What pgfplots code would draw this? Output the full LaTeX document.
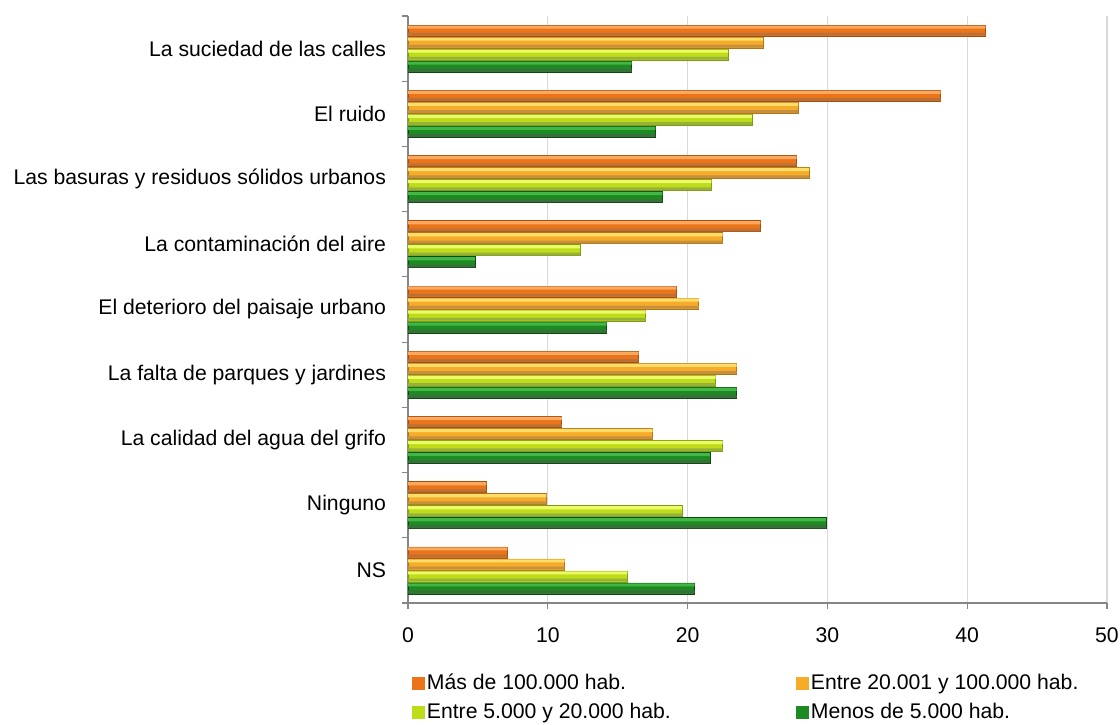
\documentclass[border=0pt]{standalone}
\usepackage{fontspec}
\setmainfont{Liberation Sans}
\usepackage{pgfplots}
\usepackage{pgfplotstable}
\pgfplotsset{compat=1.18}

\definecolor{oA}{HTML}{EC7418}
\definecolor{oAt}{HTML}{FBA860}
\definecolor{oAb}{HTML}{A94E08}
\definecolor{oB}{HTML}{F6AC28}
\definecolor{oBt}{HTML}{FFDD6A}
\definecolor{oBb}{HTML}{B67410}
\definecolor{gA}{HTML}{BEDC18}
\definecolor{gAt}{HTML}{ECFA6A}
\definecolor{gAb}{HTML}{7E9E0C}
\definecolor{gB}{HTML}{1E8A22}
\definecolor{gBt}{HTML}{42B646}
\definecolor{gBb}{HTML}{0A4A0C}
\definecolor{axgray}{HTML}{868686}
\definecolor{gridgray}{HTML}{D9D9D9}

\pgfplotstableread{
cat s1 s2 s3 s4
0 41.3 25.4 22.9 16.0
1 38.1 27.9 24.6 17.7
2 27.8 28.7 21.7 18.2
3 25.2 22.5 12.3 4.8
4 19.2 20.8 17.0 14.2
5 16.5 23.5 22.0 23.5
6 11.0 17.5 22.5 21.6
7 5.6 9.9 19.6 29.9
8 7.1 11.2 15.7 20.5
}\datatable

\pgfplotsset{
  basebar/.style n args={3}{xbar, bar width=5.5bp, bar shift=#1, fill=#2, draw=#3, line width=0.3bp},
  hibar/.style n args={3}{xbar, bar width=#2, bar shift=#1, fill=#3, draw=none, forget plot},
}

\begin{document}
\begin{tikzpicture}
\begin{axis}[
  name=ax,
  scale only axis,
  width=349.5bp, height=293.5bp,
  xmin=0, xmax=50, xtick={0,10,...,50},
  ymin=-0.5, ymax=8.5, y dir=reverse,
  ytick={-0.5,0.5,...,8.5},
  y tick label as interval,
  yticklabels={La suciedad de las calles, El ruido, Las basuras y residuos sólidos urbanos, La contaminación del aire, El deterioro del paisaje urbano, La falta de parques y jardines, La calidad del agua del grifo, Ninguno, NS},
  axis x line*=bottom, axis y line*=left,
  axis line style={draw=axgray, line width=0.6bp},
  tick align=outside, major tick length=3bp,
  tick style={draw=axgray, line width=0.6bp},
  xmajorgrids, grid style={draw=gridgray, line width=0.6bp},
  font=\fontsize{10.6bp}{12.7bp}\selectfont,
  /pgf/number format/assume math mode=true,
  xticklabel style={yshift=-6bp},
  yticklabel style={xshift=-4.5bp},
  legend columns=2,
  legend style={at={(0.005,-0.1175)}, anchor=north west, draw=none, fill=none,
    inner sep=0pt, nodes={inner sep=1bp, anchor=west}, row sep=3bp,
    font=\fontsize{10.6bp}{12.7bp}\selectfont},
  legend image code/.code={\path[#1, draw=none] (0bp,-3.2bp) rectangle (6.5bp,3.2bp);},
]
% series 1
\addplot[basebar={9bp}{oA}{oAb}] table[x=s1, y=cat] {\datatable};
\addlegendentry{\makebox[183.5bp][l]{Más de 100.000 hab.}}
% series 2
\addplot[basebar={3bp}{oB}{oBb}] table[x=s2, y=cat] {\datatable};
\addlegendentry{\makebox[183.5bp][l]{Entre 20.001 y 100.000 hab.}}
% series 3
\addplot[basebar={-3bp}{gA}{gAb}] table[x=s3, y=cat] {\datatable};
\addlegendentry{\makebox[183.5bp][l]{Entre 5.000 y 20.000 hab.}}
% series 4
\addplot[basebar={-9bp}{gB}{gBb}] table[x=s4, y=cat] {\datatable};
\addlegendentry{\makebox[183.5bp][l]{Menos de 5.000 hab.}}
% highlights (top light stripe, bottom dark stripe)
\addplot[hibar={10.75bp}{1.6bp}{oAt}] table[x=s1, y=cat] {\datatable};
\addplot[hibar={7.15bp}{1.4bp}{oAb!80}] table[x=s1, y=cat] {\datatable};
\addplot[hibar={4.75bp}{1.6bp}{oBt}] table[x=s2, y=cat] {\datatable};
\addplot[hibar={1.15bp}{1.4bp}{oBb!80}] table[x=s2, y=cat] {\datatable};
\addplot[hibar={-1.25bp}{1.6bp}{gAt}] table[x=s3, y=cat] {\datatable};
\addplot[hibar={-4.85bp}{1.4bp}{gAb!80}] table[x=s3, y=cat] {\datatable};
\addplot[hibar={-7.25bp}{1.6bp}{gBt}] table[x=s4, y=cat] {\datatable};
\addplot[hibar={-10.85bp}{1.4bp}{gBb!80}] table[x=s4, y=cat] {\datatable};
\end{axis}
\pgfresetboundingbox
\path[use as bounding box] (ax.south west) ++(-204bp,-61bp) rectangle ++(560bp,362.5bp);
\end{tikzpicture}
\end{document}
